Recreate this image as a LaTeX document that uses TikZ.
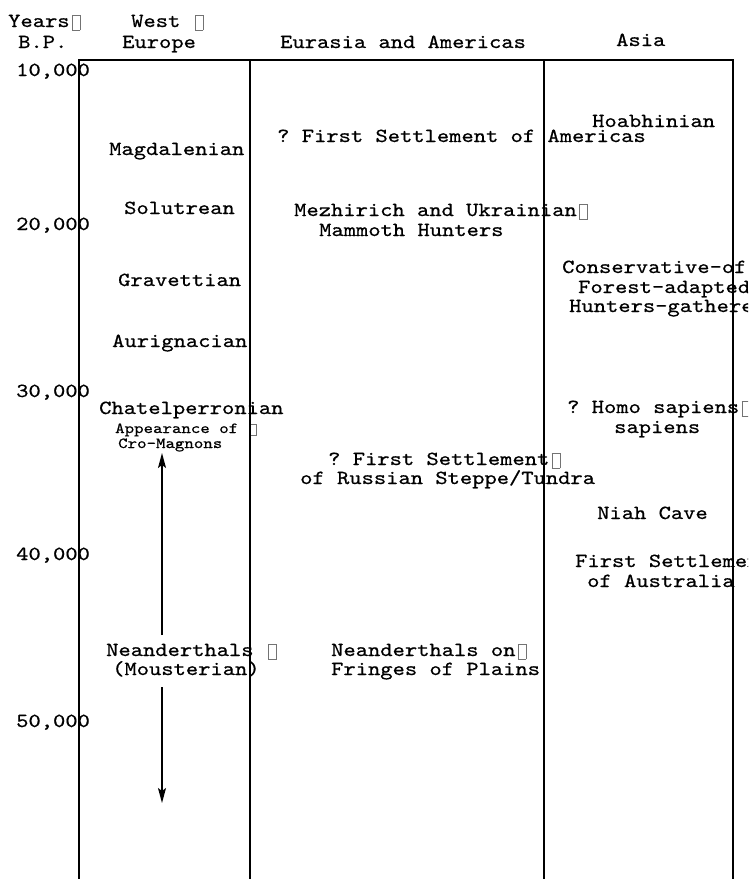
\documentclass[tikz,border=0pt]{standalone}
\usepackage{fontspec}
\setmonofont{lmmono10-regular.otf}[FakeStretch=1.17,FakeBold=0.6]
\usetikzlibrary{arrows.meta}
\definecolor{tofugray}{gray}{0.45}
\newcommand\tofu{\makebox[0.6em][l]{\hspace{0.12em}\textcolor{tofugray}{\setlength\fboxsep{0pt}\setlength\fboxrule{0.6pt}\raisebox{-0.15em}{\fbox{\rule{0pt}{0.72em}\hspace{0.36em}}}}}}
\tikzset{
  lbl/.style={anchor=base west, inner sep=0pt, font=\ttfamily\fontsize{20}{20}\selectfont},
  smalllbl/.style={anchor=base west, inner sep=0pt, font=\ttfamily\fontsize{15.4}{15}\selectfont},
  frameline/.style={line width=1.6pt},
  arr/.style={line width=1.3pt, -{Stealth[length=15pt,width=8pt,inset=3pt]}}
}
\begin{document}
\begin{tikzpicture}[x=1pt,y=-1pt]
\useasboundingbox (0,0) rectangle (748,879);
\clip (0,0) rectangle (748,879);
% header
\node[lbl] (years) at (8,27) {Years\tofu};
\node[lbl] (bp) at (18,48) {B.P.};
\node[lbl] (west) at (131,27) {West \tofu};
\node[lbl] (europe) at (122,48) {Europe};
\node[lbl] (eurasia) at (280,48) {Eurasia and Americas};
\node[lbl] (asia) at (616,46) {Asia};
% years
\node[lbl] (y10) at (16,76) {10,000};
\node[lbl] (y20) at (16,230) {20,000};
\node[lbl] (y30) at (16,397) {30,000};
\node[lbl] (y40) at (16,560) {40,000};
\node[lbl] (y50) at (16,727) {50,000};
% west europe
\node[lbl] (magd) at (109,155) {Magdalenian};
\node[lbl] (solu) at (124,214) {Solutrean};
\node[lbl] (grav) at (118,286) {Gravettian};
\node[lbl] (auri) at (112,347) {Aurignacian};
\node[lbl] (chat) at (99,414) {Chatelperronian};
\node[smalllbl] (appear) at (115,433) {Appearance of \tofu};
\node[smalllbl] (cromag) at (118,448) {Cro-Magnons};
\node[lbl] (nean1) at (106,656) {Neanderthals \tofu};
\node[lbl] (nean2) at (112,675) {(Mousterian)};
% eurasia and americas
\node[lbl] (amer) at (277,142) {? First Settlement of Americas};
\node[lbl] (mezh1) at (294,216) {Mezhirich and Ukrainian\tofu};
\node[lbl] (mezh2) at (319,236) {Mammoth Hunters};
\node[lbl] (russ1) at (328,465) {? First Settlement\tofu};
\node[lbl] (russ2) at (300,484) {of Russian Steppe/Tundra};
\node[lbl] (fring1) at (331,656) {Neanderthals on\tofu};
\node[lbl] (fring2) at (331,675) {Fringes of Plains};
% asia
\node[lbl] (hoab) at (592,127) {Hoabhinian};
\node[lbl] (cons1) at (562,273) {Conservative-of};
\node[lbl] (cons2) at (578,293) {Forest-adapted};
\node[lbl] (cons3) at (569,312) {Hunters-gatherers};
\node[lbl] (homo1) at (567,413) {? Homo sapiens\tofu};
\node[lbl] (homo2) at (614,433) {sapiens};
\node[lbl] (niah) at (597,519) {Niah Cave};
\node[lbl] (aus1) at (575,567) {First Settlement};
\node[lbl] (aus2) at (587,587) {of Australia};
% frame
\coordinate (bl) at (79,879);
\coordinate (tl) at (79,60);
\coordinate (tr) at (733,60);
\coordinate (br) at (733,879);
\coordinate (c1t) at (250,60);
\coordinate (c1b) at (250,879);
\coordinate (c2t) at (544,60);
\coordinate (c2b) at (544,879);
\draw[frameline] (bl) -- (tl) -- (tr) -- (br);
\draw[frameline] (c1t) -- (c1b);
\draw[frameline] (c2t) -- (c2b);
% arrows
\coordinate (gaptop) at (162,635);
\coordinate (arrtop) at (162,453);
\coordinate (gapbot) at (162,687);
\coordinate (arrbot) at (162,803);
\draw[arr] (gaptop) -- (arrtop);
\draw[arr] (gapbot) -- (arrbot);
\end{tikzpicture}
\end{document}
